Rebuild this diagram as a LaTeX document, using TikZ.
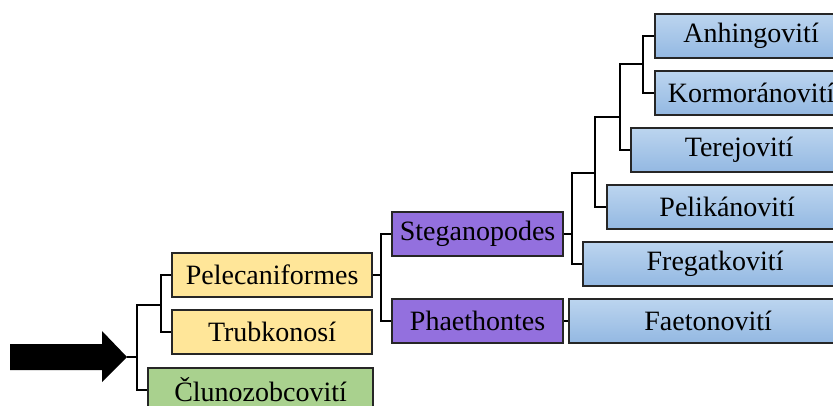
\documentclass[tikz,border=0pt]{standalone}
\usepackage{fontspec}
\setmainfont{Liberation Serif}
\usepackage{tikz}
\usetikzlibrary{positioning,calc}

\definecolor{ordyellow}{HTML}{FFE699}
\definecolor{ordgreen}{HTML}{A9D18E}
\definecolor{subpurple}{HTML}{9370DE}
\definecolor{famtop}{HTML}{BCD5EF}
\definecolor{fambot}{HTML}{93B8E2}

\begin{document}
\begin{tikzpicture}[
  x=1pt, y=-1pt,
  font=\fontsize{28}{30}\selectfont,
  taxon/.style  ={draw=black!85, line width=2.2pt, anchor=west, align=center,
                  minimum height=44pt, inner sep=2pt},
  order/.style  ={taxon, fill=ordyellow},
  outgrp/.style ={taxon, fill=ordgreen},
  subord/.style ={taxon, fill=subpurple},
  family/.style ={taxon, top color=famtop, bottom color=fambot},
  branch/.style ={line width=2.4pt, black}
]
\useasboundingbox (0,0) rectangle (833,405);
\clip (0,0) rectangle (833,405);

% --- orders ---
\node[order,  minimum width=200pt] (pele) at (171,275) {Pelecaniformes};
\node[order,  minimum width=200pt] (trub) at (171,332) {Trubkonosí};
\node[outgrp, minimum width=225pt] (clun) at (147,390) {Člunozobcovití};

% --- suborders ---
\node[subord, minimum width=171pt] (steg) at (391,234) {Steganopodes};
\node[subord, minimum width=171pt] (phae) at (391,321) {Phaethontes};

% --- families ---
\node[family, minimum width=192pt] (anhi) at (654,36)  {Anhingovití};
\node[family, minimum width=192pt] (korm) at (654,93)  {Kormoránovití};
\node[family, minimum width=216pt] (tere) at (630,150) {Terejovití};
\node[family, minimum width=240pt] (peli) at (606,207) {Pelikánovití};
\node[family, minimum width=264pt] (freg) at (582,264) {Fregatkovití};
\node[family, minimum width=278pt] (faet) at (568,321) {Faetonovití};

% --- big arrow into the root ---
\coordinate (tip) at (127,357);
\fill[black] (10,344) -- (102,344) -- (102,331) -- (tip) -- (102,382)
             -- (102,370) -- (10,370) -- cycle;

% --- junctions ---
\coordinate (root) at (137,357);
\coordinate (j1)   at (161,305);
\coordinate (j2)   at (381,275);
\coordinate (j3)   at (572,234);
\coordinate (j4)   at (595,173);
\coordinate (j5)   at (620,117);
\coordinate (j6)   at (643,64);

% --- branches ---
\draw[branch] (tip)  -- (root);
\draw[branch] (root) |- (j1);
\draw[branch] (root) |- (clun.west);
\draw[branch] (j1)   |- (pele.west);
\draw[branch] (j1)   |- (trub.west);
\draw[branch] (pele.east) -- (j2);
\draw[branch] (j2)   |- (steg.west);
\draw[branch] (j2)   |- (phae.west);
\draw[branch] (phae.east) -- (faet.west);
\draw[branch] (steg.east) -- (j3);
\draw[branch] (j3)   |- (freg.west);
\draw[branch] (j3)   |- (j4);
\draw[branch] (j4)   |- (peli.west);
\draw[branch] (j4)   |- (j5);
\draw[branch] (j5)   |- (tere.west);
\draw[branch] (j5)   |- (j6);
\draw[branch] (j6)   |- (anhi.west);
\draw[branch] (j6)   |- (korm.west);

\end{tikzpicture}
\end{document}
